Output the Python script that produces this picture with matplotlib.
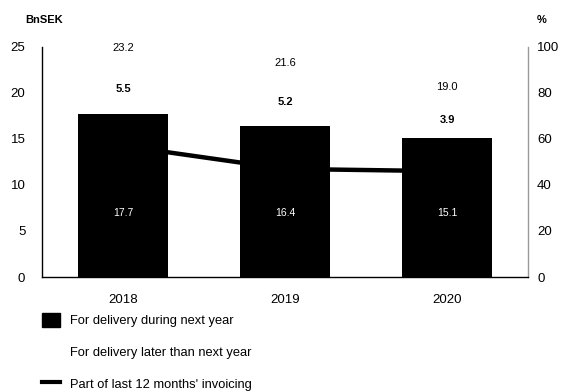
import matplotlib
matplotlib.use("Agg")
import matplotlib.pyplot as plt
from matplotlib.patches import Patch
from matplotlib.lines import Line2D
import numpy as np

plt.rcParams['font.family'] = ['Liberation Sans', 'DejaVu Sans']

years = ["2018", "2019", "2020"]
next_year = [17.7, 16.4, 15.1]
later = [5.5, 5.2, 3.9]
totals = [23.2, 21.6, 19.0]
share_pct = [57, 47, 46]
left_ticks = [0, 5, 10, 15, 20, 25]
right_ticks = [0, 20, 40, 60, 80, 100]

W, H = 561, 392
ax_l, ax_r, ax_t, ax_b = 42, 528, 47, 277

fig = plt.figure(figsize=(W/100, H/100), dpi=100)
ax = fig.add_axes([ax_l/W, 1-ax_b/H, (ax_r-ax_l)/W, (ax_b-ax_t)/H])
ax2 = ax.twinx()
ax2.set_zorder(ax.get_zorder() - 1)
ax.patch.set_visible(False)

x = np.arange(len(years))
w = 0.56
ax.bar(x, next_year, width=w, color='black', zorder=2)
ax.bar(x, later, bottom=next_year, width=w, color='white', zorder=2)

ax2.plot(x, share_pct, color='black', lw=3.2, solid_capstyle='butt')

for i in range(len(years)):
    ax.text(x[i], 7.0, f"{next_year[i]:.1f}", color='white', ha='center', va='center', fontsize=7.5)
    ax.text(x[i], next_year[i] + later[i] / 2, f"{later[i]:.1f}", color='black', ha='center', va='center',
            fontsize=8, fontweight='bold')
    ax.text(x[i], totals[i] + 1.7, f"{totals[i]:.1f}", color='black', ha='center', va='center', fontsize=8)

ax.set_xlim(-0.5, 2.5)
ax.set_ylim(0, 25)
ax2.set_ylim(0, 100)
ax.set_yticks(left_ticks)
ax2.set_yticks(right_ticks)
ax.set_xticks(x)
ax.set_xticklabels(years)

for a in (ax, ax2):
    a.spines['top'].set_visible(False)
ax.spines['right'].set_visible(False)
ax2.spines['left'].set_visible(False)
ax2.spines['bottom'].set_visible(False)
ax.spines['left'].set_color('black')
ax.spines['bottom'].set_color('black')
ax.spines['left'].set_linewidth(1.0)
ax.spines['bottom'].set_linewidth(1.0)
ax2.spines['right'].set_color('#999999')
ax2.spines['right'].set_linewidth(1.0)

ax.tick_params(axis='y', length=0, pad=12, labelsize=9.5)
ax.tick_params(axis='x', length=0, pad=12.5, labelsize=9.5)
ax2.tick_params(axis='y', length=0, pad=6.5, labelsize=9.5)

fig.text(25/W, 1-20/H, "BnSEK", fontsize=8, fontweight='bold', ha='left', va='center')
fig.text(537/W, 1-20/H, "%", fontsize=8, fontweight='bold', ha='left', va='center')

handles = [Patch(facecolor='black', edgecolor='black'),
           Patch(facecolor='white', edgecolor='white'),
           Line2D([0], [0], color='black', lw=3.0)]
labels = ["For delivery during next year", "For delivery later than next year",
          "Part of last 12 months' invoicing"]
fig.legend(handles, labels, loc='upper left', bbox_to_anchor=(42/W, 1-313/H), frameon=False,
           fontsize=9.3, handlelength=1.4, handleheight=1.3, labelspacing=1.35, handletextpad=0.75,
           borderaxespad=0, borderpad=0)

fig.savefig("out.png", dpi=100)
